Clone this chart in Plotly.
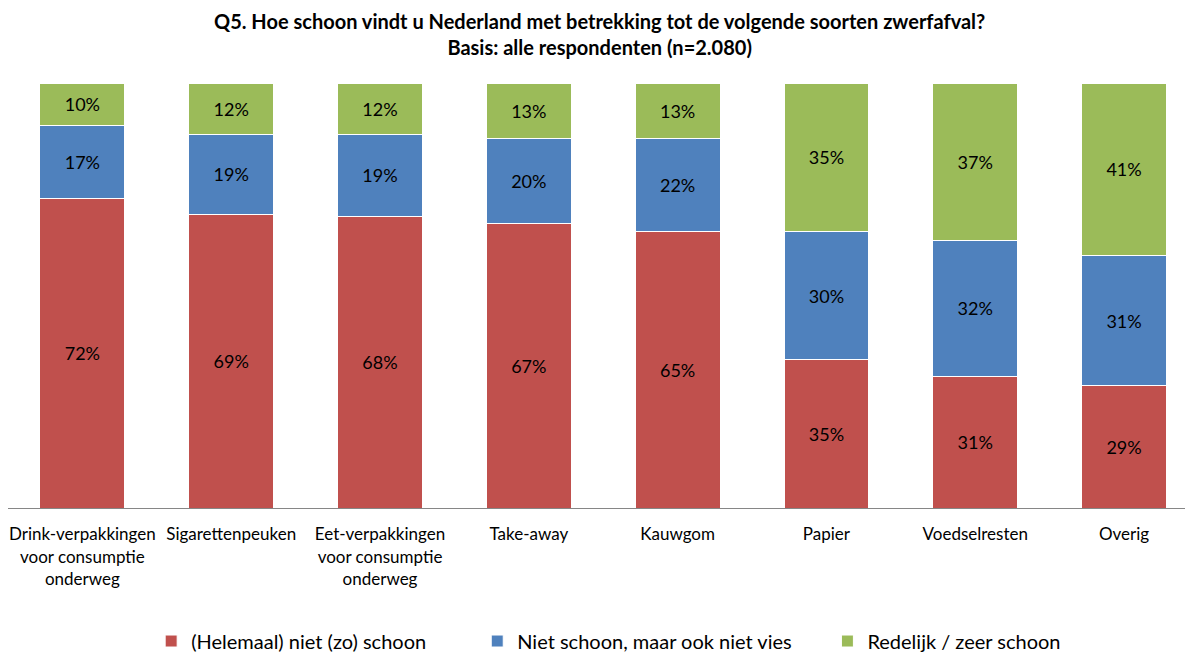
import plotly.graph_objects as go

categories = ["Drink-verpakkingen<br>voor consumptie<br>onderweg", "Sigarettenpeuken",
              "Eet-verpakkingen<br>voor consumptie<br>onderweg", "Take-away", "Kauwgom",
              "Papier", "Voedselresten", "Overig"]
niet_schoon = [72, 69, 68, 67, 65, 35, 31, 29]
neutraal = [17, 19, 19, 20, 22, 30, 32, 31]
schoon = [10, 12, 12, 13, 13, 35, 37, 41]
series_names = ["(Helemaal) niet (zo) schoon", "Niet schoon, maar ook niet vies", "Redelijk / zeer schoon"]
colors = ["#C0504D", "#4F81BD", "#9BBB59"]
title_text = "<b>Q5. Hoe schoon vindt u Nederland met betrekking tot de volgende soorten zwerfafval?<br>Basis: alle respondenten (n=2.080)</b>"

NB = "\u00a0"
legend_pad = [NB * 9, NB * 6, ""]

x = list(range(len(categories)))
fig = go.Figure()
for name, pad, vals, col in zip(series_names, legend_pad, [niet_schoon, neutraal, schoon], colors):
    fig.add_trace(go.Bar(
        x=x, y=vals, name=name + pad, marker=dict(color=col, line=dict(color="white", width=1)),
        text=[f"{v}%" for v in vals], textposition="inside", insidetextanchor="middle",
        textfont=dict(size=18, color="#000000", family="Lato"), constraintext="none",
        hoverinfo="skip"))

fig.add_annotation(text=title_text, xref="paper", yref="paper", x=0.496, y=1.0,
                   yshift=76, xanchor="center", yanchor="top", showarrow=False,
                   font=dict(size=20, family="Lato", color="#000000"))

fig.update_layout(
    barmode="stack", barnorm="percent", bargap=0.43,
    width=1193, height=653,
    margin=dict(l=0, r=0, t=75, b=153),
    paper_bgcolor="white", plot_bgcolor="white",
    font=dict(family="Lato", size=17, color="#000000"),
    xaxis=dict(tickvals=x, ticktext=categories, range=[-0.5, 7.517], showline=True,
               linecolor="#868686", linewidth=1, ticks="", showgrid=False,
               tickfont=dict(size=17), automargin=False, ticklabelstandoff=11),
    yaxis=dict(range=[0, 100], visible=False, showgrid=False, automargin=False),
    legend=dict(orientation="h", x=0.12, xanchor="left", y=-0.313, yanchor="middle",
                font=dict(size=20), traceorder="normal", itemwidth=30),
    showlegend=True,
)
fig.write_html("out.html")
